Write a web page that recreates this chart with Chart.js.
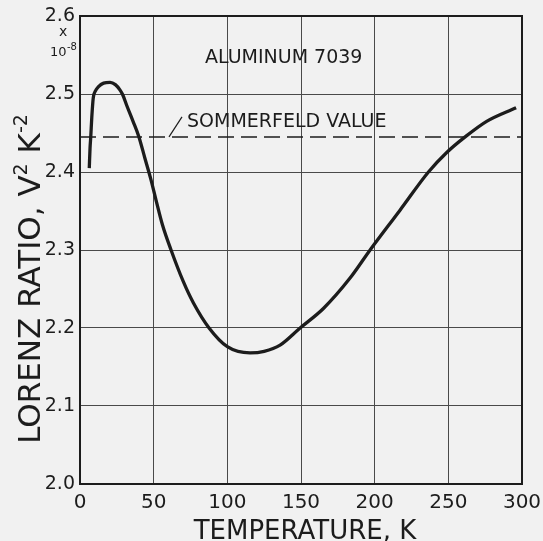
<!DOCTYPE html>
<html>
<head>
<meta charset="utf-8">
<script src="https://cdn.jsdelivr.net/npm/chart.js@4.4.1/dist/chart.umd.min.js"></script>
<style>
  html, body { margin: 0; padding: 0; background: #f1f1f1; }
  #wrap { width: 543px; height: 541px; }
</style>
</head>
<body>
<div id="wrap"><canvas id="lorenz" width="543" height="541"></canvas></div>
<script>
// temperature (K) and Lorenz ratio (x 10^-8 V^2 K^-2)
var temperatures = [6.3, 6.8, 7.3, 8, 9, 10.5, 12.4, 16, 20.4, 24, 27.2, 29, 32, 36, 40, 44, 48.2, 51.6, 56, 61.8, 70, 77, 87.6, 100, 115.4, 125, 135.8, 149.4, 165.2, 183.3, 196.9, 217.2, 236.5, 248.9, 261.4, 276, 296];
var lorenzRatio = [2.405, 2.43, 2.445, 2.47, 2.495, 2.504, 2.509, 2.514, 2.515, 2.512, 2.505, 2.499, 2.484, 2.465, 2.445, 2.418, 2.39, 2.364, 2.332, 2.3, 2.26, 2.232, 2.2, 2.176, 2.168, 2.17, 2.178, 2.2, 2.225, 2.264, 2.3, 2.351, 2.4, 2.425, 2.445, 2.465, 2.4825];
var sommerfeldT = [0, 300];
var sommerfeldValue = 2.445;
var xTicks = [0, 50, 100, 150, 200, 250, 300];
var yTicks = [2.0, 2.1, 2.2, 2.3, 2.4, 2.5, 2.6];

var ink = '#1c1c1c';
var font = 'DejaVu Sans';

var curve = [];
for (var i = 0; i < temperatures.length; i++) {
    curve.push({x: temperatures[i], y: lorenzRatio[i]});
}
var sommerfeld = sommerfeldT.map(function (t) { return {x: t, y: sommerfeldValue}; });

// frame + all the lettering that chart.js can't place the way the figure does
var lettering = {
    id: 'lettering',
    beforeDatasetsDraw: function (chart) {
        var a = chart.chartArea, ctx = chart.ctx;
        ctx.save();
        ctx.strokeStyle = ink;
        ctx.lineWidth = 2;
        ctx.strokeRect(a.left, a.top, a.right - a.left, a.bottom - a.top);
        ctx.restore();
    },
    afterDraw: function (chart) {
        var ctx = chart.ctx, xs = chart.scales.x, ys = chart.scales.y;
        ctx.save();
        ctx.fillStyle = ink;
        ctx.strokeStyle = ink;
        ctx.textBaseline = 'alphabetic';

        // ALUMINUM 7039
        ctx.font = '19px "' + font + '"';
        ctx.textAlign = 'left';
        ctx.fillText('ALUMINUM 7039', 205, 63);

        // SOMMERFELD VALUE with leader line
        var yS = ys.getPixelForValue(sommerfeldValue);
        ctx.lineWidth = 1.2;
        ctx.beginPath();
        ctx.moveTo(169, yS);
        ctx.lineTo(182, yS - 20);
        ctx.stroke();
        ctx.fillText('SOMMERFELD VALUE', 187, 127);

        // x 10^-8 multiplier
        ctx.font = '14px "' + font + '"';
        ctx.fillText('x', 59, 36);
        ctx.font = '13px "' + font + '"';
        ctx.fillText('10', 50, 56);
        ctx.font = '10px "' + font + '"';
        ctx.fillText('-8', 67, 50);

        // x axis title
        ctx.font = '26px "' + font + '"';
        ctx.textAlign = 'center';
        ctx.fillText('TEMPERATURE, K', 305, 539);

        // y axis title, rotated, with superscripts
        ctx.translate(40, 279);
        ctx.rotate(-Math.PI / 2);
        var big = '31px "' + font + '"', small = '19px "' + font + '"';
        var parts = [['LORENZ RATIO, V', big, 0], ['2', small, -13], [' K', big, 0], ['-2', small, -13]];
        var total = 0;
        parts.forEach(function (p) { ctx.font = p[1]; total += ctx.measureText(p[0]).width; });
        var x = -total / 2;
        ctx.textAlign = 'left';
        parts.forEach(function (p) {
            ctx.font = p[1];
            ctx.fillText(p[0], x, p[2]);
            x += ctx.measureText(p[0]).width;
        });
        ctx.restore();
    }
};

new Chart(document.getElementById('lorenz'), {
    type: 'line',
    data: {
        datasets: [
            {
                data: curve,
                borderColor: ink,
                borderWidth: 3.3,
                pointRadius: 0,
                cubicInterpolationMode: 'monotone',
                fill: false
            },
            {
                data: sommerfeld,
                borderColor: ink,
                borderWidth: 1.5,
                borderDash: [16, 7],
                pointRadius: 0,
                fill: false
            }
        ]
    },
    options: {
        responsive: false,
        animation: false,
        devicePixelRatio: 1,
        layout: { padding: { top: 16, right: 21, left: 0, bottom: 0 } },
        plugins: { legend: { display: false }, tooltip: { enabled: false } },
        scales: {
            x: {
                type: 'linear',
                min: 0,
                max: 300,
                afterBuildTicks: function (s) { s.ticks = xTicks.map(function (v) { return {value: v}; }); },
                afterFit: function (s) { s.height = 57; s.paddingLeft = 0; s.paddingRight = 0; },
                grid: { color: '#4a4a4a', lineWidth: 1, drawTicks: false },
                border: { display: false },
                ticks: { color: ink, font: { family: font, size: 20 }, padding: 7, maxRotation: 0 }
            },
            y: {
                min: 2.0,
                max: 2.6,
                afterBuildTicks: function (s) { s.ticks = yTicks.map(function (v) { return {value: v}; }); },
                afterFit: function (s) { s.width = 80; s.paddingTop = 0; s.paddingBottom = 0; },
                grid: { color: '#4a4a4a', lineWidth: 1, drawTicks: false },
                border: { display: false },
                ticks: {
                    color: ink,
                    font: { family: font, size: 19 },
                    padding: 5,
                    callback: function (v) { return v.toFixed(1); }
                }
            }
        }
    },
    plugins: [lettering]
});
</script>
</body>
</html>
